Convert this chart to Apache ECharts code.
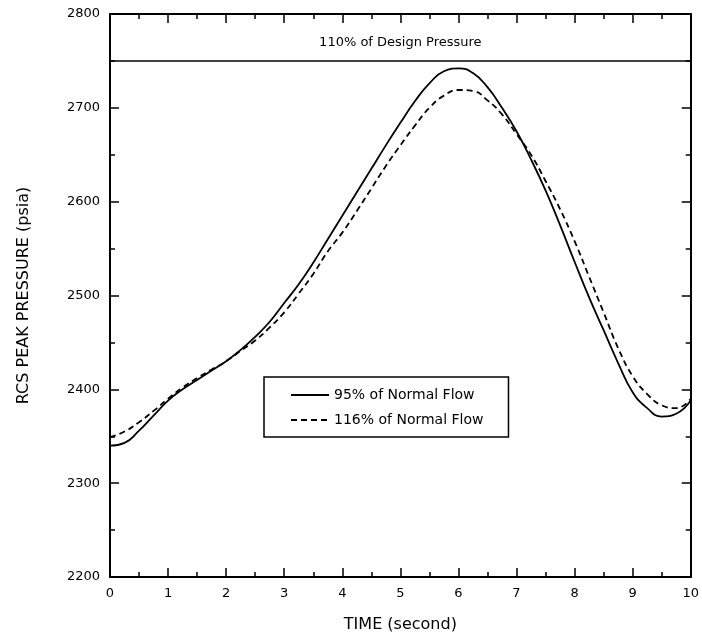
<!DOCTYPE html>
<html lang="en">
<head>
    <meta charset="UTF-8">
    <title>RCS Peak Pressure</title>
    <script src="https://cdn.jsdelivr.net/npm/echarts@6/dist/echarts.min.js"></script>
</head>
<body style="margin:0">
    <div id="main" style="width:702px;height:638px;"></div>
    <script>
        // time points (s) and peak pressure (psia)
        var times = [0, 0.25, 0.5, 0.75, 1, 1.25, 1.5, 1.75, 2, 2.25, 2.5, 2.75, 3, 3.25, 3.5, 3.75,
                     4, 4.25, 4.5, 4.75, 5, 5.25, 5.5, 5.75, 6, 6.25, 6.5, 6.75, 7, 7.25, 7.5, 7.75,
                     8, 8.25, 8.5, 8.75, 9, 9.25, 9.5, 9.75, 10];
        var flow95 = [2340, 2343, 2356, 2372, 2388, 2400, 2410, 2420, 2430, 2442, 2456, 2472, 2492, 2512, 2535, 2560,
                      2585, 2610, 2635, 2660, 2684, 2707, 2726, 2739, 2742, 2737, 2722, 2700, 2675, 2645, 2612, 2575,
                      2536, 2498, 2463, 2428, 2397, 2380, 2371, 2374, 2388];
        var flow116 = [2349, 2355, 2365, 2377, 2390, 2402, 2412, 2421, 2430, 2441, 2452, 2466, 2482, 2502, 2523, 2547,
                       2567, 2590, 2614, 2638, 2660, 2681, 2700, 2713, 2719, 2718, 2708, 2693, 2672, 2650, 2622, 2592,
                       2558, 2520, 2482, 2444, 2414, 2395, 2383, 2380, 2390];
        var seriesNames = ['95% of Normal Flow', '116% of Normal Flow'];
        var designLimit = 2750;
        var designLabel = '110% of Design Pressure';

        function pairs(ys) {
            return times.map(function (t, i) { return [t, ys[i]]; });
        }

        var font = 'DejaVu Sans';
        var ink = '#000';

        function axisBase(extra) {
            var a = {
                type: 'value',
                axisLine: { show: true, onZero: false, lineStyle: { color: ink, width: 2 } },
                axisTick: { show: true, inside: true, length: 9, lineStyle: { color: ink, width: 1.5 } },
                minorTick: { show: true, splitNumber: 2, length: 5, lineStyle: { color: ink, width: 1.5 } },
                splitLine: { show: false },
                axisLabel: { show: false }
            };
            for (var k in extra) a[k] = extra[k];
            return a;
        }

        var chart = echarts.init(document.getElementById('main'));
        chart.setOption({
            animation: false,
            backgroundColor: '#fff',
            grid: { left: 110, right: 10, top: 14, bottom: 60 },
            legend: {
                data: seriesNames,
                orient: 'vertical',
                left: 264,
                top: 377,
                itemWidth: 38,
                itemHeight: 14,
                itemGap: 11,
                padding: [11, 25, 10, 26],
                borderColor: ink,
                borderWidth: 1.5,
                itemStyle: { opacity: 0 },
                textStyle: { fontFamily: font, fontSize: 14, color: ink }
            },
            xAxis: [
                axisBase({
                    position: 'bottom', min: 0, max: 10, interval: 1,
                    axisLabel: { show: true, margin: 10, fontFamily: font, fontSize: 13, color: ink },
                    name: 'TIME (second)', nameLocation: 'middle', nameGap: 40,
                    nameTextStyle: { fontFamily: font, fontSize: 16, color: ink }
                }),
                axisBase({ position: 'top', min: 0, max: 10, interval: 1 })
            ],
            yAxis: [
                axisBase({
                    position: 'left', min: 2200, max: 2800, interval: 100,
                    axisLabel: {
                        show: true, margin: 10, fontFamily: font, fontSize: 13, color: ink,
                        formatter: function (v) { return String(v); }
                    },
                    name: 'RCS PEAK PRESSURE (psia)', nameLocation: 'middle', nameGap: 78,
                    nameTextStyle: { fontFamily: font, fontSize: 16, color: ink }
                }),
                axisBase({ position: 'right', min: 2200, max: 2800, interval: 100 })
            ],
            series: [
                {
                    name: seriesNames[0],
                    type: 'line',
                    smooth: 0.5,
                    symbol: 'none',
                    lineStyle: { color: ink, width: 1.8 },
                    itemStyle: { color: ink },
                    data: pairs(flow95),
                    markLine: {
                        silent: true,
                        symbol: 'none',
                        lineStyle: { color: ink, width: 1.5, type: 'solid' },
                        label: {
                            show: true,
                            position: 'insideMiddleTop',
                            distance: 12,
                            formatter: designLabel,
                            fontFamily: font,
                            fontSize: 13,
                            color: ink
                        },
                        data: [{ yAxis: designLimit }]
                    }
                },
                {
                    name: seriesNames[1],
                    type: 'line',
                    smooth: 0.5,
                    symbol: 'none',
                    lineStyle: { color: ink, width: 1.8, type: [6, 4] },
                    itemStyle: { color: ink },
                    data: pairs(flow116)
                }
            ]
        });
    </script>
</body>
</html>
